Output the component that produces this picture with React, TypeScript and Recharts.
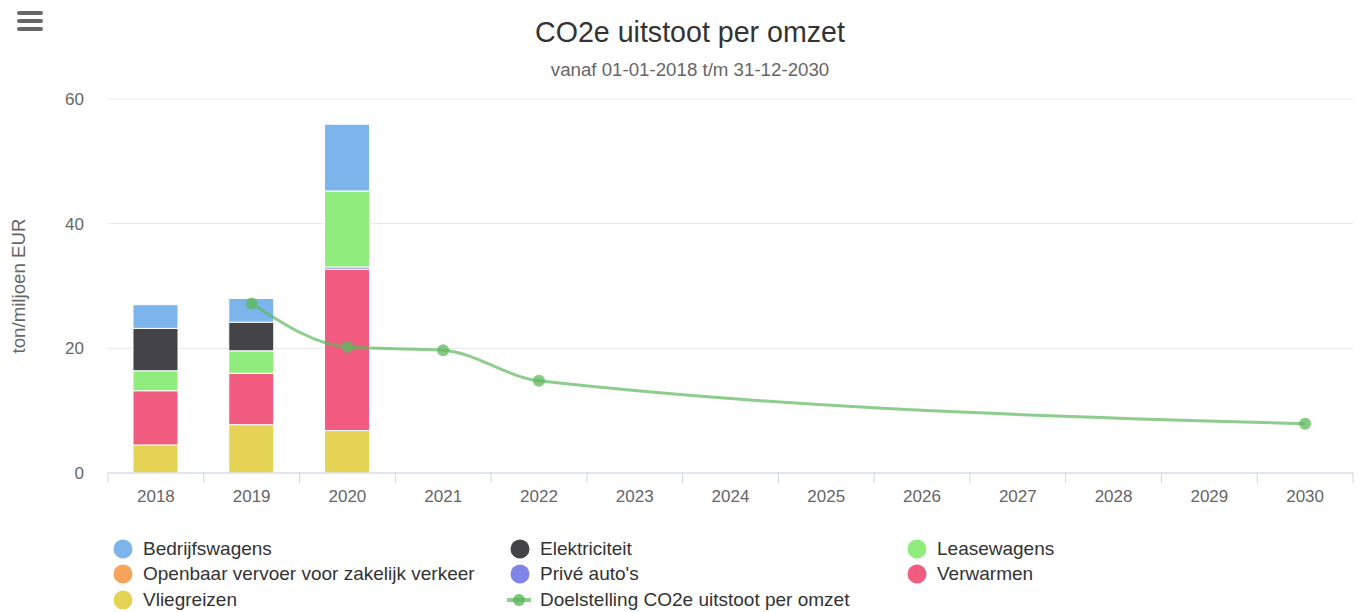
import { ComposedChart, Bar, Line, XAxis, YAxis, CartesianGrid } from "recharts"

const years = ["2018", "2019", "2020", "2021", "2022", "2023", "2024", "2025", "2026", "2027", "2028", "2029", "2030"]

// tonnen CO2e per miljoen EUR omzet, per bron
const bedrijfswagens = [3.8, 3.8, 10.7, null, null, null, null, null, null, null, null, null, null]
const elektriciteit = [6.8, 4.6, 0, null, null, null, null, null, null, null, null, null, null]
const leasewagens = [3.2, 3.6, 12.2, null, null, null, null, null, null, null, null, null, null]
const openbaarVervoer = [0, 0, 0, null, null, null, null, null, null, null, null, null, null]
const priveAutos = [0, 0, 0.35, null, null, null, null, null, null, null, null, null, null]
const verwarmen = [8.7, 8.25, 25.9, null, null, null, null, null, null, null, null, null, null]
const vliegreizen = [4.5, 7.75, 6.8, null, null, null, null, null, null, null, null, null, null]
const doelstelling = [null, 27.2, 20.2, 19.7, 14.8, null, null, null, null, null, null, null, 7.9]

const yTicks = [0, 20, 40, 60]

const series = [
  { key: "bedrijfswagens", name: "Bedrijfswagens", color: "#7cb5ec" },
  { key: "elektriciteit", name: "Elektriciteit", color: "#434348" },
  { key: "leasewagens", name: "Leasewagens", color: "#90ed7d" },
  { key: "openbaarVervoer", name: "Openbaar vervoer voor zakelijk verkeer", color: "#f7a35c" },
  { key: "priveAutos", name: "Privé auto's", color: "#8085e9" },
  { key: "verwarmen", name: "Verwarmen", color: "#f15c80" },
  { key: "vliegreizen", name: "Vliegreizen", color: "#e4d354" },
]
const lineName = "Doelstelling CO2e uitstoot per omzet"
const lineColor = "#5cb85c"

const data = years.map((year, i) => ({
  year,
  bedrijfswagens: bedrijfswagens[i],
  elektriciteit: elektriciteit[i],
  leasewagens: leasewagens[i],
  openbaarVervoer: openbaarVervoer[i],
  priveAutos: priveAutos[i],
  verwarmen: verwarmen[i],
  vliegreizen: vliegreizen[i],
  doelstelling: doelstelling[i],
}))

// stacked bottom-up, so reverse of legend order
const stackOrder = [...series].reverse()

const FONT = '"Liberation Sans", Arial, Helvetica, sans-serif'

// tick marks sit between the categories, labels in the middle
const YearTick = (props: any) => {
  const { x, y, payload, index, visibleTicksCount, width } = props
  const half = payload.offset || width / visibleTicksCount / 2
  return (
    <g>
      <line x1={x - half} x2={x - half} y1={y} y2={y + 10} stroke="#ccd6eb" />
      {index === visibleTicksCount - 1 && (
        <line x1={x + half} x2={x + half} y1={y} y2={y + 10} stroke="#ccd6eb" />
      )}
      <text x={x} y={y + 29} textAnchor="middle" fill="#666666" fontSize={17} fontFamily={FONT}>
        {payload.value}
      </text>
    </g>
  )
}

const AxisTitle = ({ viewBox }: any) => {
  const cx = viewBox.x + 25
  const cy = viewBox.y + viewBox.height / 2
  return (
    <text
      x={cx}
      y={cy}
      transform={`rotate(-90 ${cx} ${cy})`}
      textAnchor="middle"
      fill="#666666"
      fontSize={18.7}
      fontFamily={FONT}
    >
      ton/miljoen EUR
    </text>
  )
}

function ChartLegend() {
  const items = [...series.map((s) => ({ name: s.name, color: s.color, line: false })), { name: lineName, color: lineColor, line: true }]
  return (
    <div
      style={{
        position: "absolute",
        left: 113,
        top: 536,
        width: 1200,
        display: "grid",
        gridTemplateColumns: "397px 397px 397px",
        fontFamily: FONT,
        fontSize: 19,
        color: "#333333",
      }}
    >
      {items.map((it) => (
        <div key={it.name} style={{ display: "flex", alignItems: "center", height: 25.5, whiteSpace: "nowrap" }}>
          {it.line ? (
            <svg width={34} height={20} style={{ flex: "none", marginLeft: -4 }}>
              <line x1={1} x2={25} y1={10} y2={10} stroke={it.color} strokeOpacity={0.7} strokeWidth={4} />
              <circle cx={13} cy={10} r={6} fill={it.color} fillOpacity={0.8} />
            </svg>
          ) : (
            <svg width={30} height={20} style={{ flex: "none" }}>
              <circle cx={10} cy={10} r={9.5} fill={it.color} />
            </svg>
          )}
          <span>{it.name}</span>
        </div>
      ))}
    </div>
  )
}

export default function App() {
  return (
    <div style={{ position: "absolute", left: 0, top: 0, width: 1359, height: 612, background: "#fff", fontFamily: FONT }}>
      <svg width={1359} height={90} style={{ position: "absolute", left: 0, top: 0 }}>
        <rect x={17} y={11} width={26} height={4} rx={2} fill="#666666" />
        <rect x={17} y={19} width={26} height={4} rx={2} fill="#666666" />
        <rect x={17} y={27} width={26} height={4} rx={2} fill="#666666" />
        <text x={690} y={42} textAnchor="middle" fill="#333333" fontSize={28.6} fontFamily={FONT}>
          CO2e uitstoot per omzet
        </text>
        <text x={690} y={76} textAnchor="middle" fill="#666666" fontSize={18.7} fontFamily={FONT}>
          vanaf 01-01-2018 t/m 31-12-2030
        </text>
      </svg>
      <div style={{ position: "absolute", left: 0, top: 0 }}>
        <ComposedChart width={1359} height={612} data={data} margin={{ top: 99, right: 6, left: 0, bottom: 99 }}>
          <CartesianGrid vertical={false} stroke="#e6e6e6" />
          <XAxis
            dataKey="year"
            height={40}
            axisLine={{ stroke: "#ccd6eb" }}
            tickLine={false}
            tickSize={0}
            tickMargin={0}
            tick={<YearTick />}
            interval={0}
          />
          <YAxis
            width={108}
            domain={[0, 60]}
            ticks={yTicks}
            axisLine={false}
            tickLine={false}
            tickSize={0}
            tickMargin={24}
            tick={{ fill: "#666666", fontSize: 17, fontFamily: FONT }}
            label={<AxisTitle />}
          />
          {stackOrder.map((s) => (
            <Bar
              key={s.key}
              dataKey={s.key}
              name={s.name}
              stackId="co2"
              fill={s.color}
              stroke="#ffffff"
              strokeWidth={1}
              barSize={45}
              isAnimationActive={false}
            />
          ))}
          <Line
            dataKey="doelstelling"
            name={lineName}
            type="monotone"
            connectNulls
            stroke={lineColor}
            strokeOpacity={0.7}
            strokeWidth={3}
            dot={{ r: 6, fill: lineColor, fillOpacity: 0.75, stroke: "none" }}
            activeDot={false}
            isAnimationActive={false}
          />
        </ComposedChart>
      </div>
      <ChartLegend />
    </div>
  )
}
